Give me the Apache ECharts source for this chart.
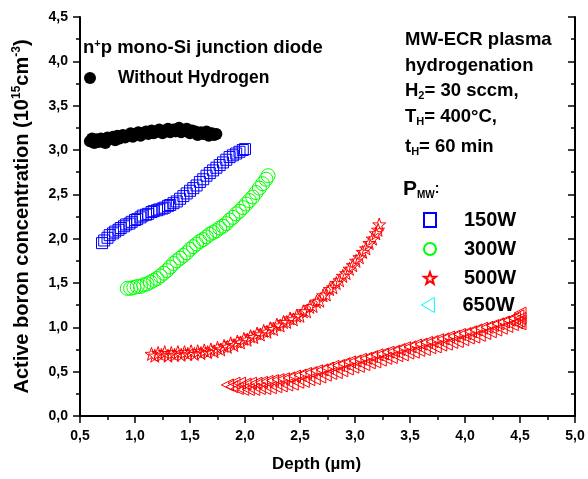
<!DOCTYPE html>
<html>
<head>
<meta charset="utf-8">
<script src="https://cdn.jsdelivr.net/npm/echarts@6/dist/echarts.min.js"></script>
<style>
  html, body { margin: 0; padding: 0; background: #fff; }
  #chart { width: 588px; height: 479px; }
</style>
</head>
<body>
<div id="chart"></div>
<script>
// depth (um), active boron concentration (1e15 cm^-3)
const noHydrogen = [
  [0.59,3.10],[0.61,3.13],[0.63,3.08],[0.65,3.12],[0.67,3.09],[0.69,3.13],[0.71,3.11],[0.73,3.08],[0.75,3.14],[0.77,3.12],
  [0.80,3.15],[0.82,3.11],[0.84,3.16],[0.86,3.13],[0.89,3.17],[0.91,3.14],[0.93,3.16],[0.96,3.19],[0.98,3.15],[1.00,3.18],
  [1.03,3.20],[1.05,3.16],[1.07,3.19],[1.10,3.21],[1.12,3.18],[1.15,3.22],[1.17,3.19],[1.20,3.21],[1.22,3.23],[1.25,3.19],
  [1.27,3.22],[1.30,3.24],[1.32,3.20],[1.35,3.23],[1.37,3.21],[1.40,3.25],[1.42,3.20],[1.45,3.22],[1.47,3.24],[1.50,3.19],
  [1.52,3.22],[1.55,3.21],[1.57,3.17],[1.60,3.20],[1.62,3.18],[1.65,3.21],[1.67,3.16],[1.70,3.19],[1.72,3.17],[1.74,3.18]
];
const p150 = [
  [0.70,1.95],[0.72,1.98],[0.75,2.01],[0.77,2.04],[0.80,2.06],[0.82,2.08],[0.85,2.10],[0.87,2.12],[0.90,2.14],[0.92,2.16],
  [0.95,2.17],[0.97,2.19],[1.00,2.21],[1.02,2.22],[1.05,2.24],[1.07,2.26],[1.10,2.27],[1.12,2.28],[1.15,2.30],[1.17,2.31],
  [1.20,2.32],[1.22,2.33],[1.25,2.34],[1.27,2.35],[1.30,2.37],[1.32,2.38],[1.35,2.40],[1.38,2.42],[1.41,2.45],[1.44,2.48],
  [1.47,2.51],[1.50,2.54],[1.53,2.57],[1.56,2.60],[1.59,2.64],[1.62,2.67],[1.65,2.71],[1.68,2.74],[1.71,2.77],[1.74,2.80],
  [1.77,2.83],[1.80,2.86],[1.83,2.89],[1.86,2.92],[1.89,2.94],[1.92,2.96],[1.95,2.98],[1.98,3.00],[2.00,3.01]
];
const p300 = [
  [0.93,1.44],[0.96,1.44],[0.99,1.45],[1.02,1.46],[1.05,1.46],[1.08,1.48],[1.11,1.49],[1.14,1.51],[1.17,1.53],[1.20,1.55],
  [1.23,1.58],[1.26,1.61],[1.29,1.64],[1.32,1.68],[1.35,1.72],[1.38,1.75],[1.41,1.78],[1.44,1.81],[1.47,1.84],[1.50,1.88],
  [1.53,1.91],[1.56,1.94],[1.59,1.97],[1.62,1.99],[1.65,2.02],[1.68,2.05],[1.71,2.07],[1.74,2.09],[1.77,2.12],[1.80,2.14],
  [1.83,2.17],[1.86,2.21],[1.89,2.24],[1.92,2.28],[1.95,2.31],[1.98,2.35],[2.01,2.39],[2.04,2.43],[2.07,2.47],[2.10,2.52],
  [2.13,2.57],[2.16,2.62],[2.19,2.67],[2.21,2.71]
];
const p500 = [
  [1.15,0.70],[1.18,0.68],[1.21,0.71],[1.24,0.69],[1.27,0.72],[1.30,0.68],[1.33,0.71],[1.36,0.69],[1.39,0.72],[1.42,0.69],
  [1.45,0.72],[1.48,0.70],[1.51,0.73],[1.54,0.70],[1.57,0.73],[1.60,0.71],[1.63,0.74],[1.66,0.72],[1.69,0.75],[1.72,0.73],
  [1.75,0.77],[1.78,0.75],[1.81,0.79],[1.84,0.78],[1.87,0.82],[1.90,0.80],[1.93,0.84],[1.96,0.83],[1.99,0.87],[2.02,0.86],
  [2.05,0.90],[2.08,0.89],[2.11,0.93],[2.14,0.92],[2.17,0.96],[2.20,0.95],[2.23,0.99],[2.26,0.98],[2.29,1.03],[2.32,1.02],
  [2.35,1.06],[2.38,1.06],[2.41,1.10],[2.44,1.09],[2.47,1.13],[2.50,1.13],[2.53,1.18],[2.56,1.18],[2.59,1.23],[2.62,1.24],
  [2.65,1.29],[2.68,1.30],[2.71,1.36],[2.74,1.37],[2.77,1.43],[2.80,1.45],[2.83,1.50],[2.86,1.53],[2.89,1.58],[2.92,1.61],
  [2.95,1.66],[2.98,1.70],[3.01,1.75],[3.04,1.79],[3.07,1.85],[3.10,1.89],[3.13,1.95],[3.16,2.00],[3.19,2.06],[3.21,2.10],
  [3.22,2.16]
];
const p650 = [
  [1.84,0.35],[1.88,0.33],[1.90,0.37],[1.93,0.31],[1.95,0.37],[1.98,0.30],[2.00,0.36],[2.03,0.30],[2.05,0.37],[2.08,0.30],
  [2.10,0.37],[2.13,0.31],[2.15,0.38],[2.18,0.31],[2.20,0.39],[2.23,0.32],[2.25,0.40],[2.28,0.33],[2.30,0.41],[2.33,0.34],
  [2.35,0.42],[2.38,0.35],[2.40,0.43],[2.43,0.36],[2.45,0.45],[2.48,0.38],[2.50,0.46],[2.53,0.39],[2.55,0.48],[2.58,0.41],
  [2.60,0.49],[2.63,0.42],[2.65,0.51],[2.68,0.44],[2.70,0.52],[2.73,0.46],[2.75,0.54],[2.78,0.48],[2.80,0.56],[2.83,0.49],
  [2.85,0.57],[2.88,0.51],[2.90,0.59],[2.93,0.53],[2.95,0.61],[2.98,0.55],[3.00,0.62],[3.03,0.56],[3.05,0.64],[3.08,0.58],
  [3.10,0.65],[3.13,0.60],[3.15,0.67],[3.18,0.61],[3.20,0.69],[3.23,0.63],[3.25,0.70],[3.28,0.65],[3.30,0.72],[3.33,0.66],
  [3.35,0.73],[3.38,0.68],[3.40,0.75],[3.43,0.69],[3.45,0.77],[3.48,0.71],[3.50,0.78],[3.53,0.72],[3.55,0.80],[3.58,0.74],
  [3.60,0.81],[3.63,0.75],[3.65,0.83],[3.68,0.77],[3.70,0.84],[3.73,0.78],[3.75,0.86],[3.78,0.80],[3.80,0.87],[3.83,0.81],
  [3.85,0.89],[3.88,0.83],[3.90,0.90],[3.93,0.84],[3.95,0.92],[3.98,0.86],[4.00,0.93],[4.03,0.88],[4.05,0.95],[4.08,0.89],
  [4.10,0.97],[4.13,0.91],[4.15,0.99],[4.18,0.93],[4.20,1.00],[4.23,0.95],[4.25,1.02],[4.28,0.97],[4.30,1.04],[4.33,0.99],
  [4.35,1.06],[4.38,1.01],[4.40,1.08],[4.43,1.03],[4.45,1.10],[4.47,1.05],[4.48,1.13],[4.49,1.07],[4.50,1.16],[4.50,1.10],
  [4.50,1.04]
];
const powerNames = ['150W', '300W', '500W', '650W'];

const FONT = '"Liberation Sans", Arial, sans-serif';
const starPath = 'path://M50 0L61.8 33.8L97.6 34.5L69 56.2L79.4 90.5L50 70L20.6 90.5L31 56.2L2.4 34.5L38.2 33.8Z';
const leftTriPath = 'path://M0 50L86 0L86 100Z';
const hollow = (c) => ({ color: 'rgba(0,0,0,0)', borderColor: c, borderWidth: 1, opacity: 1 });
const fmt = (v) => v.toFixed(1).replace('.', ',');

const baseAxis = {
  interval: 0.5,
  axisLine: { lineStyle: { color: '#000', width: 2 } },
  axisTick: { length: 7, lineStyle: { color: '#000', width: 1.5 } },
  minorTick: { show: true, splitNumber: 2, length: 4, lineStyle: { color: '#000', width: 1.5 } },
  splitLine: { show: false },
};
const tickFont = { fontFamily: FONT, fontWeight: 'bold', fontSize: 14, color: '#000' };
const boldText = (size) => ({ fontFamily: FONT, fontWeight: 'bold', fontSize: size, fill: '#000' });
const legendText = { fontFamily: FONT, fontWeight: 'bold', fontSize: 20, color: '#000' };

const chart = echarts.init(document.getElementById('chart'));
chart.setOption({
  animation: false,
  backgroundColor: '#fff',
  grid: { left: 80, right: 13, top: 17, bottom: 63 },
  xAxis: [
    {
      ...baseAxis, type: 'value', min: 0.5, max: 5.0, position: 'bottom',
      name: 'Depth (µm)', nameLocation: 'middle', nameGap: 40,
      nameTextStyle: { fontFamily: FONT, fontWeight: 'bold', fontSize: 17, color: '#000', padding: [0, 22, 0, 0] },
      axisLabel: { formatter: fmt, margin: 13, ...tickFont },
    },
    {
      ...baseAxis, type: 'value', min: 0.5, max: 5.0, position: 'top',
      axisTick: { ...baseAxis.axisTick, inside: true },
      axisLabel: { show: false },
    },
  ],
  yAxis: [
    {
      ...baseAxis, type: 'value', min: 0, max: 4.5, position: 'left',
      name: '{a|Active boron concentration (10}{s|15}{a|cm}{s|-3}{a|)}',
      nameLocation: 'middle', nameGap: 47,
      nameTextStyle: {
        rich: {
          a: { fontFamily: FONT, fontWeight: 'bold', fontSize: 20, color: '#000' },
          s: { fontFamily: FONT, fontWeight: 'bold', fontSize: 12, color: '#000', verticalAlign: 'top', padding: [0, 0, 10, 0] },
        },
      },
      axisLabel: { formatter: fmt, margin: 12, ...tickFont },
    },
    {
      ...baseAxis, type: 'value', min: 0, max: 4.5, position: 'right',
      axisTick: { ...baseAxis.axisTick, inside: true },
      axisLabel: { show: false },
    },
  ],
  legend: [
    {
      data: ['Without Hydrogen'],
      left: 79, top: 64, itemWidth: 12, itemHeight: 12,
      textStyle: { fontFamily: FONT, fontWeight: 'bold', fontSize: 17.5, color: '#000', padding: [0, 0, 0, 17] },
    },
    {
      data: powerNames.slice(0, 3),
      orient: 'vertical', left: 418, top: 205, itemGap: 9, itemWidth: 12, itemHeight: 14,
      textStyle: { ...legendText, padding: [0, 0, 0, 23] },
    },
    {
      data: [{ name: powerNames[3], icon: leftTriPath, itemStyle: hollow('#00ffff') }],
      left: 416, top: 290, itemWidth: 15, itemHeight: 15,
      textStyle: { ...legendText, padding: [0, 0, 0, 22] },
    },
  ],
  graphic: [
    {
      type: 'text', left: 83, top: 38,
      style: {
        text: '{b|n}{s|+}{b|p mono-Si junction diode}',
        rich: { b: boldText(18.5), s: { ...boldText(11), verticalAlign: 'top', padding: [0, 0, 9, 0] } },
      },
    },
    { type: 'text', left: 405, top: 30, style: { text: 'MW-ECR plasma', ...boldText(18.5) } },
    { type: 'text', left: 405, top: 56, style: { text: 'hydrogenation', ...boldText(18.5) } },
    {
      type: 'text', left: 405, top: 81,
      style: {
        text: '{b|H}{u|2}{b|= 30 sccm,}',
        rich: { b: boldText(18.5), u: { ...boldText(11), verticalAlign: 'bottom', padding: [10, 0, 0, 0] } },
      },
    },
    {
      type: 'text', left: 405, top: 107,
      style: {
        text: '{b|T}{u|H}{b|= 400°C,}',
        rich: { b: boldText(18.5), u: { ...boldText(11), verticalAlign: 'bottom', padding: [10, 0, 0, 0] } },
      },
    },
    {
      type: 'text', left: 405, top: 137,
      style: {
        text: '{b|t}{u|H}{b|= 60 min}',
        rich: { b: boldText(18.5), u: { ...boldText(11), verticalAlign: 'bottom', padding: [10, 0, 0, 0] } },
      },
    },
    {
      type: 'text', left: 403, top: 179,
      style: {
        text: '{p|P}{u|MW}{c|:}',
        rich: {
          p: boldText(21),
          u: { ...boldText(10), verticalAlign: 'bottom', padding: [12, 0, 0, 0] },
          c: boldText(14),
        },
      },
    },
  ],
  series: [
    {
      name: 'Without Hydrogen', type: 'scatter', data: noHydrogen,
      symbol: 'circle', symbolSize: 12, itemStyle: { color: '#000', opacity: 1 },
    },
    {
      name: powerNames[0], type: 'scatter', data: p150,
      symbol: 'rect', symbolSize: 11, itemStyle: hollow('#0000ff'),
    },
    {
      name: powerNames[1], type: 'scatter', data: p300,
      symbol: 'circle', symbolSize: 14, itemStyle: hollow('#00ff00'),
    },
    {
      name: powerNames[2], type: 'scatter', data: p500,
      symbol: starPath, symbolSize: 13, itemStyle: hollow('#ff0000'),
    },
    {
      name: powerNames[3], type: 'scatter', data: p650,
      symbol: 'triangle', symbolRotate: 90, symbolSize: 12, itemStyle: hollow('#ff0000'),
    },
  ],
});
</script>
</body>
</html>
